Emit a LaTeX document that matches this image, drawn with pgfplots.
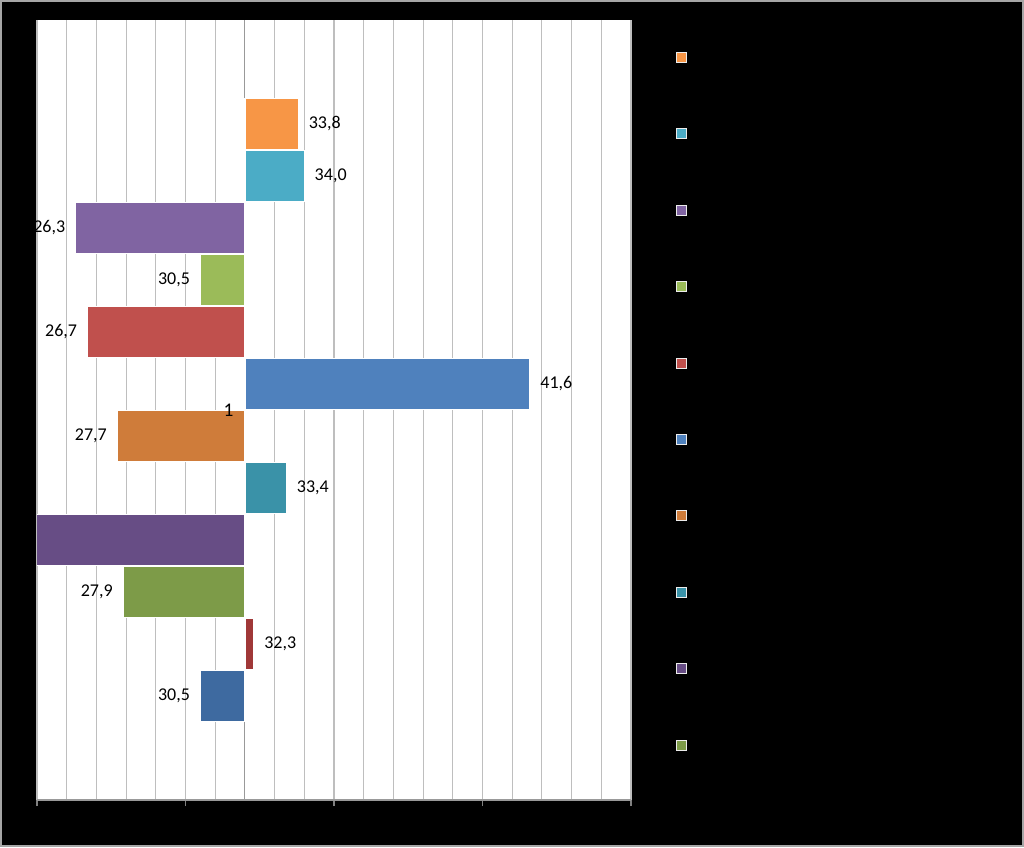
\documentclass[border=0pt]{standalone}
\usepackage{pgfplots}
\pgfplotsset{compat=1.18}
\usepackage{fontspec}
\setmainfont{Carlito}
\definecolor{c1}{HTML}{F79646}
\definecolor{c2}{HTML}{4BACC6}
\definecolor{c3}{HTML}{8064A2}
\definecolor{c4}{HTML}{9BBB59}
\definecolor{c5}{HTML}{C0504D}
\definecolor{c6}{HTML}{4F81BD}
\definecolor{c7}{HTML}{CF7C3A}
\definecolor{c8}{HTML}{3A92A8}
\definecolor{c9}{HTML}{674D85}
\definecolor{c10}{HTML}{7D9B48}
\definecolor{c11}{HTML}{A03838}
\definecolor{c12}{HTML}{3E6AA0}
\definecolor{gridgray}{HTML}{BEBEBE}
\pgfdeclarelayer{canvasbg}
\pgfplotsset{
  layers/labelsontop/.define layer set={
    canvasbg,axis background,axis grid,axis ticks,axis lines,main,axis tick labels,axis descriptions,axis foreground
  }{/pgfplots/layers/standard},
  set layers=labelsontop,
}
\begin{document}
\begin{tikzpicture}[x=1pt,y=1pt]
\begin{pgfonlayer}{canvasbg}
\fill[black] (0,0) rectangle (768,635.25);
\draw[gray!70, line width=1.5pt] (0.75,0.75) rectangle (767.25,634.5);
\end{pgfonlayer}
\begin{axis}[
  at={(27.75pt,35.25pt)}, anchor=south west,
  scale only axis, width=445.5pt, height=585pt,
  xbar, bar width=0.97,
  xmin=-7, xmax=13, ymin=-1, ymax=14,
  x filter/.expression={x-32},
  point meta=rawx,
  /pgf/number format/assume math mode=true,
  axis background/.style={fill=white},
  axis x line*=bottom, axis y line*=middle,
  axis line style={-, draw=gray!80, line width=0.8pt},
  xtick={-7,-2,3,8,13}, xticklabels={25,30,35,40,45},
  minor x tick num=4,
  xtick align=outside, major tick length=4.5pt, minor tick length=0pt,
  xtick style={draw=gray, line width=0.8pt},
  xticklabel style={text=black},
  xmajorgrids, xminorgrids,
  major grid style={draw=gridgray, line width=0.8pt},
  minor grid style={draw=gridgray, line width=0.8pt},
  ytick={6.5}, yticklabels={1},
  ytick style={draw=none},
  yticklabel style={font=\fontsize{14.5}{16}\selectfont, text=black, xshift=-0.5pt, yshift=-0.5pt},
  nodes near coords={\pgfmathprintnumber[fixed,fixed zerofill,precision=1,use comma,assume math mode=true]{\pgfplotspointmeta}},
  every node near coord/.append style={font=\fontsize{13.5}{16}\selectfont, text=black},
  pos/.style={every node near coord/.append style={anchor=west, xshift=4pt}},
  neg/.style={every node near coord/.append style={anchor=east, xshift=-4pt}},
  legend style={at={(1.0758,0.959)}, anchor=north west, fill=black, draw=none,
    inner sep=0pt, outer sep=0pt, row sep=49pt, nodes={inner sep=0pt}, font=\tiny},
  legend image code/.code={\draw[#1, draw=white!85!gray, line width=0.8pt] (0pt,-3.75pt) rectangle (7.5pt,3.75pt);},
]
\addplot[fill=c1, draw=white, line width=1pt, bar shift=0pt, pos] coordinates {(33.8,12)};
\addlegendentry{\mbox{}}
\addplot[fill=c2, draw=white, line width=1pt, bar shift=0pt, pos] coordinates {(34.0,11)};
\addlegendentry{\mbox{}}
\addplot[fill=c3, draw=white, line width=1pt, bar shift=0pt, neg] coordinates {(26.3,10)};
\addlegendentry{\mbox{}}
\addplot[fill=c4, draw=white, line width=1pt, bar shift=0pt, neg] coordinates {(30.5,9)};
\addlegendentry{\mbox{}}
\addplot[fill=c5, draw=white, line width=1pt, bar shift=0pt, neg] coordinates {(26.7,8)};
\addlegendentry{\mbox{}}
\addplot[fill=c6, draw=white, line width=1pt, bar shift=0pt, pos] coordinates {(41.6,7)};
\addlegendentry{\mbox{}}
\addplot[fill=c7, draw=white, line width=1pt, bar shift=0pt, neg] coordinates {(27.7,6)};
\addlegendentry{\mbox{}}
\addplot[fill=c8, draw=white, line width=1pt, bar shift=0pt, pos] coordinates {(33.4,5)};
\addlegendentry{\mbox{}}
\addplot[fill=c9, draw=white, line width=1pt, bar shift=0pt, neg] coordinates {(24.9,4)};
\addlegendentry{\mbox{}}
\addplot[fill=c10, draw=white, line width=1pt, bar shift=0pt, neg] coordinates {(27.9,3)};
\addlegendentry{\mbox{}}
\addplot[fill=c11, draw=white, line width=1pt, bar shift=0pt, pos, forget plot] coordinates {(32.3,2)};
\addplot[fill=c12, draw=white, line width=1pt, bar shift=0pt, neg, forget plot] coordinates {(30.5,1)};
\end{axis}
\pgfresetboundingbox
\path (0,0) rectangle (768,635.25);
\end{tikzpicture}
\end{document}
